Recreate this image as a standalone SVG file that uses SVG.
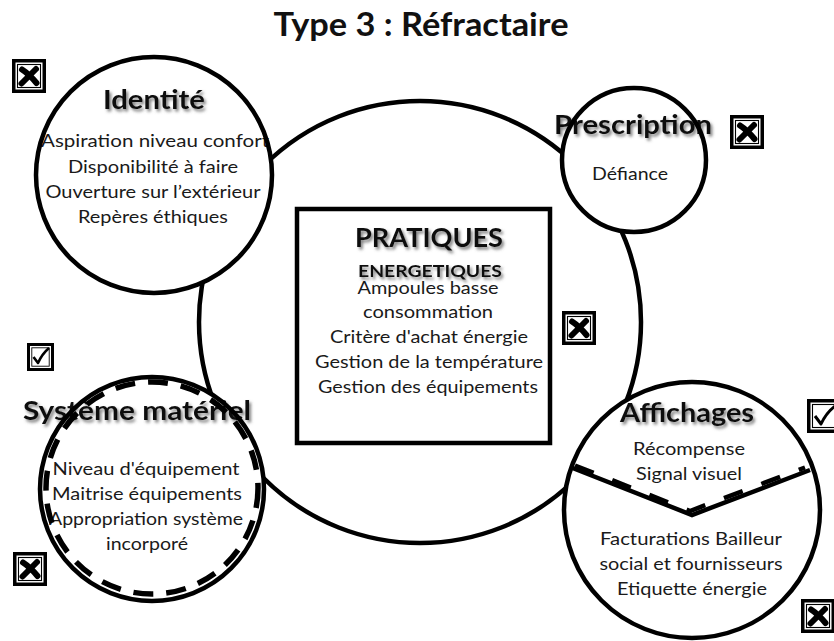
<svg xmlns="http://www.w3.org/2000/svg" xmlns:xlink="http://www.w3.org/1999/xlink" width="834" height="641" viewBox="0 0 834 641">
<style>
text{font-family:Lato,"Open Sans","Liberation Sans",sans-serif;fill:#1a1a1a;text-anchor:middle}
.t{font-size:17.5px}
.h{font-size:26px;font-weight:bold;fill:#111}
.bg{fill:#fff;stroke:none}
.ring{fill:none;stroke:#000;stroke-width:4.5}
.ln{fill:none;stroke:#000;stroke-width:4.5}
.sh{filter:url(#shadow)}
</style>
<defs>
<filter id="shadow" x="-20%" y="-40%" width="140%" height="190%">
<feDropShadow dx="2" dy="2.5" stdDeviation="1.8" flood-color="#555" flood-opacity="0.75"/>
</filter>
<g id="xbox">
<rect x="1.75" y="1.75" width="30.5" height="30.5" fill="#fff" stroke="#000" stroke-width="3.5"/>
<rect x="5.5" y="5.5" width="23" height="23" fill="none" stroke="#000" stroke-width="1.1"/>
<path d="M10,10.5 Q17,15 24.5,24 M24,10 Q17,17 9.5,24.5" fill="none" stroke="#000" stroke-width="6" stroke-linecap="round"/>
</g>
<g id="vbox">
<rect x="1.5" y="1.5" width="24" height="25" fill="#fff" stroke="#000" stroke-width="3"/>
<rect x="4.8" y="4.8" width="17.4" height="18.4" fill="none" stroke="#000" stroke-width="0.9"/>
<path d="M6.5,14 L11,20 Q15,11 22,5" fill="none" stroke="#000" stroke-width="2.6" stroke-linejoin="round"/>
</g>
<g id="vbox2">
<rect x="1.75" y="1.75" width="30.5" height="30.5" fill="#fff" stroke="#000" stroke-width="3.5"/>
<rect x="5.5" y="5.5" width="23" height="23" fill="none" stroke="#000" stroke-width="1.1"/>
<path d="M8,17 L14,25 Q19,14 28,7" fill="none" stroke="#000" stroke-width="3" stroke-linejoin="round"/>
</g>
</defs>
<rect width="834" height="641" fill="#fff"/>

<text x="421" y="36" style="font-size:33px;font-weight:bold;fill:#111" textLength="295" lengthAdjust="spacingAndGlyphs">Type 3 : Réfractaire</text>

<g id="connectors">
<circle cx="420" cy="322" r="221" class="ln"/>
</g>

<g id="pratiques">
<rect x="297" y="209" width="253" height="234" fill="#fff" stroke="#000" stroke-width="4.5"/>
<text x="429" y="247" class="h sh" style="font-size:27px" textLength="148" lengthAdjust="spacingAndGlyphs">PRATIQUES</text>
<text x="430" y="277" class="h sh" style="font-size:17px" textLength="144" lengthAdjust="spacingAndGlyphs">ENERGETIQUES</text>
<text x="428" y="294" class="t" textLength="141" lengthAdjust="spacingAndGlyphs">Ampoules basse</text>
<text x="428" y="318" class="t" textLength="130" lengthAdjust="spacingAndGlyphs">consommation</text>
<text x="429" y="343" class="t" textLength="198" lengthAdjust="spacingAndGlyphs">Critère d'achat énergie</text>
<text x="429" y="368" class="t" textLength="228" lengthAdjust="spacingAndGlyphs">Gestion de la température</text>
<text x="428" y="393" class="t" textLength="220" lengthAdjust="spacingAndGlyphs">Gestion des équipements</text>
</g>

<g id="identite">
<circle cx="154" cy="175" r="118" class="bg"/>
<text x="154" y="109" class="h sh" textLength="102" lengthAdjust="spacingAndGlyphs">Identité</text>
<text x="155" y="147" class="t" textLength="228" lengthAdjust="spacingAndGlyphs">Aspiration  niveau confort</text>
<text x="153" y="173" class="t" textLength="170" lengthAdjust="spacingAndGlyphs">Disponibilité à faire</text>
<text x="153" y="198" class="t" textLength="215" lengthAdjust="spacingAndGlyphs">Ouverture sur l’extérieur</text>
<text x="153" y="223" class="t" textLength="150" lengthAdjust="spacingAndGlyphs">Repères éthiques</text>
<circle cx="154" cy="175" r="118" class="ring"/>
<use xlink:href="#xbox" x="12" y="59"/>
</g>

<g id="prescription">
<circle cx="634" cy="160" r="72" class="bg"/>
<text x="633" y="134" class="h sh" textLength="158" lengthAdjust="spacingAndGlyphs">Prescription</text>
<text x="630" y="180" class="t" textLength="76" lengthAdjust="spacingAndGlyphs">Défiance</text>
<circle cx="634" cy="160" r="72" class="ring"/>
<use xlink:href="#xbox" x="730" y="115"/>
</g>

<use xlink:href="#xbox" x="562" y="311"/>

<g id="systeme">
<circle cx="152" cy="489" r="112" class="bg"/>
<text x="137" y="420" class="h sh" textLength="228" lengthAdjust="spacingAndGlyphs">Système matériel</text>
<text x="146" y="475" class="t" textLength="187" lengthAdjust="spacingAndGlyphs">Niveau d'équipement</text>
<text x="147" y="500" class="t" textLength="190" lengthAdjust="spacingAndGlyphs">Maitrise équipements</text>
<text x="146" y="525" class="t" textLength="194" lengthAdjust="spacingAndGlyphs">Appropriation système</text>
<text x="147" y="550" class="t" textLength="82" lengthAdjust="spacingAndGlyphs">incorporé</text>
<circle cx="152" cy="489" r="112" class="ring"/>
<circle cx="152" cy="488" r="106" fill="none" stroke="#000" stroke-width="5.5" stroke-dasharray="20 13"/>
<use xlink:href="#vbox" x="27" y="343"/>
<use xlink:href="#xbox" x="13" y="552"/>
</g>

<g id="affichages">
<circle cx="692" cy="510" r="128" class="bg"/>
<text x="687" y="422" class="h sh" textLength="134" lengthAdjust="spacingAndGlyphs">Affichages</text>
<text x="689" y="455" class="t" textLength="112" lengthAdjust="spacingAndGlyphs">Récompense</text>
<text x="689" y="480" class="t" textLength="106" lengthAdjust="spacingAndGlyphs">Signal visuel</text>
<text x="691" y="545" class="t" textLength="182" lengthAdjust="spacingAndGlyphs">Facturations  Bailleur</text>
<text x="691" y="570" class="t" textLength="183" lengthAdjust="spacingAndGlyphs">social et fournisseurs</text>
<text x="692" y="595" class="t" textLength="150" lengthAdjust="spacingAndGlyphs">Etiquette énergie</text>
<polyline points="570,467 692,515 810,470" class="ln" stroke-linejoin="miter"/>
<polyline points="575,465.5 690,511 805,467.5" fill="none" stroke="#000" stroke-width="4.5" stroke-dasharray="20 20"/>
<circle cx="692" cy="510" r="128" class="ring"/>
<use xlink:href="#vbox2" x="807" y="399"/>
<use xlink:href="#xbox" x="801" y="599"/>
</g>
</svg>
